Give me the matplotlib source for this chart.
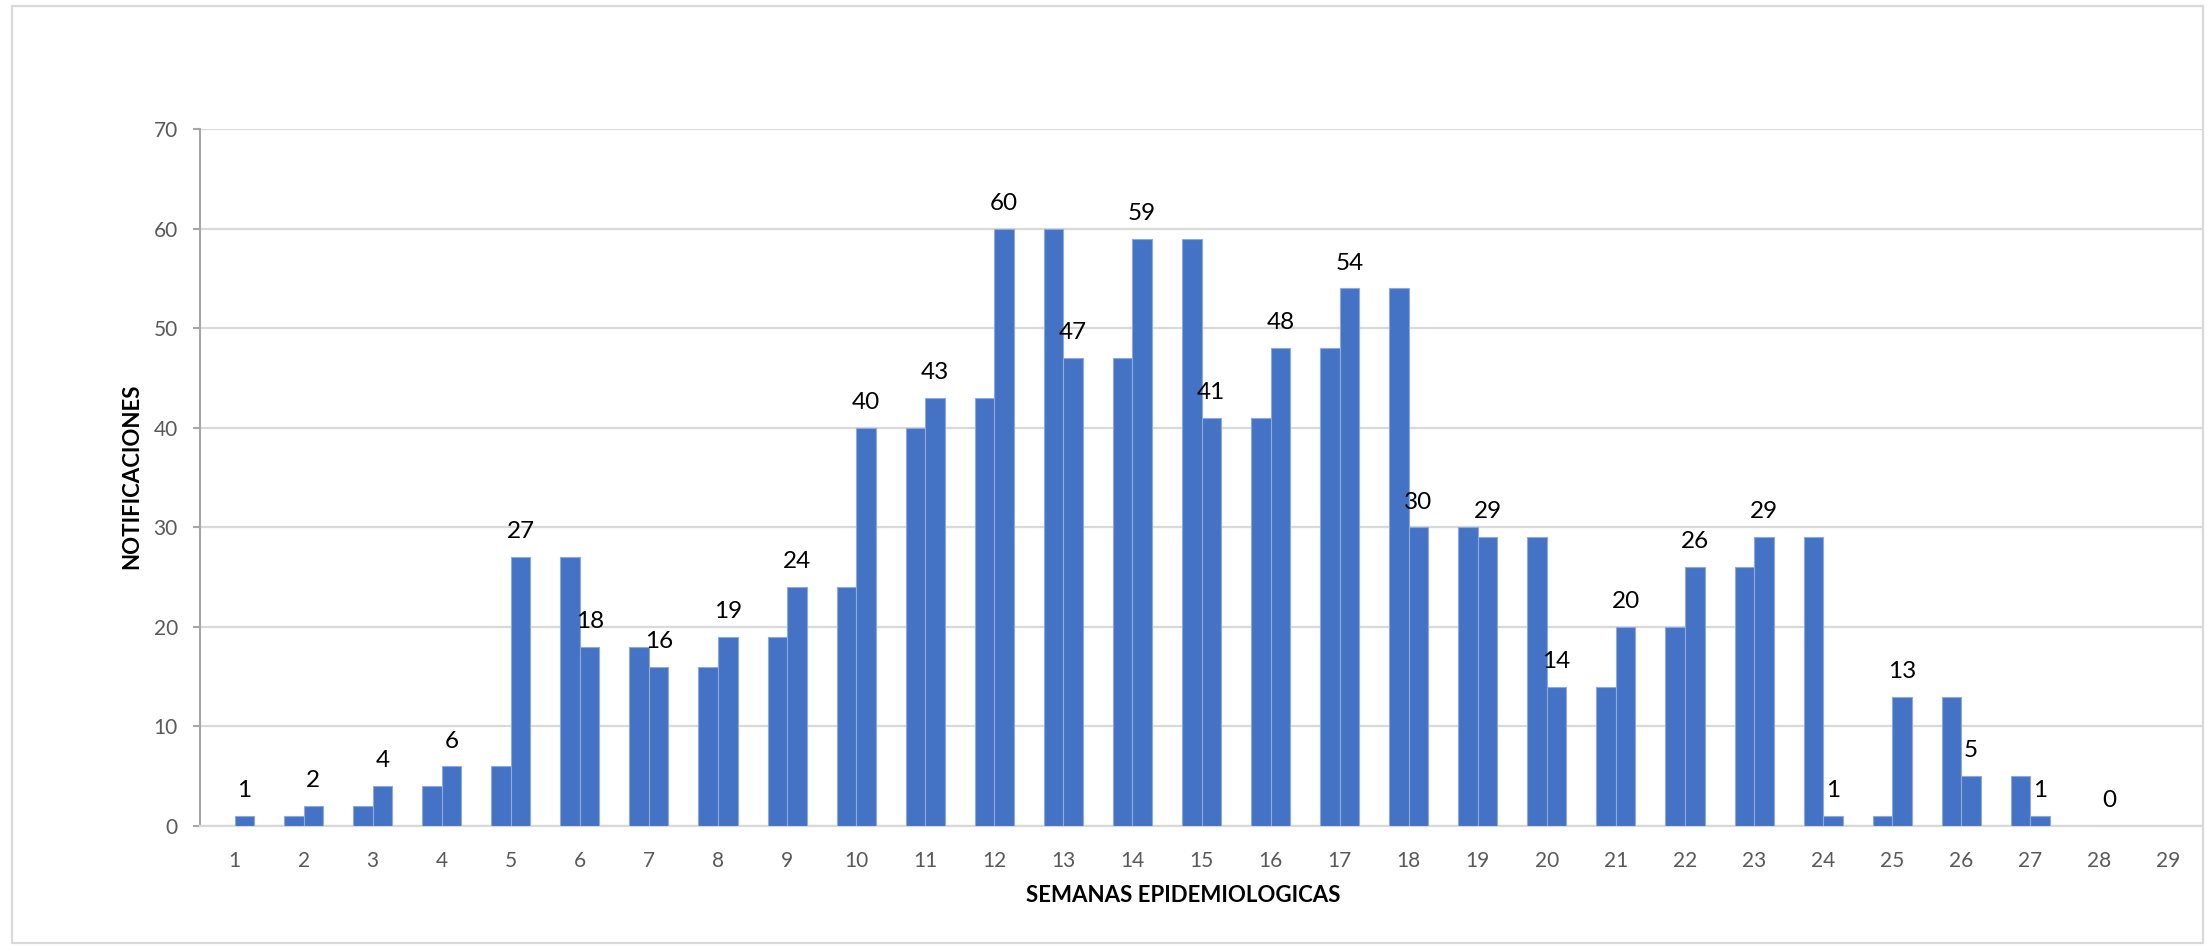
import numpy as np
import matplotlib
matplotlib.use("Agg")
import matplotlib.pyplot as plt
from matplotlib.patches import Rectangle

plt.rcParams['font.family'] = ['Lato', 'DejaVu Sans']

weeks = [str(i) for i in range(1, 30)]
prev_week = [np.nan, 1, 2, 4, 6, 27, 18, 16, 19, 24, 40, 43, 60, 47, 59, 41, 48, 54,
             30, 29, 14, 20, 26, 29, 1, 13, 5, np.nan, np.nan]
curr_week = [1, 2, 4, 6, 27, 18, 16, 19, 24, 40, 43, 60, 47, 59, 41, 48, 54, 30,
             29, 14, 20, 26, 29, 1, 13, 5, 1, 0, np.nan]

W, H = 2209, 949
fig = plt.figure(figsize=(W / 100, H / 100), dpi=100)
ax = fig.add_axes([200 / W, 1 - 826 / H, (2203 - 200) / W, (826 - 129) / H])

x = np.arange(len(weeks))
bw = 0.283
color = '#4472C4'
edge = '#8EA9DB'
ax.bar(x - bw / 2, prev_week, width=bw, color=color, edgecolor=edge, linewidth=0.8, zorder=3)
ax.bar(x + bw / 2, curr_week, width=bw, color=color, edgecolor=edge, linewidth=0.8, zorder=3)

for xi, v in zip(x, curr_week):
    if not np.isnan(v):
        ax.annotate(f"{int(v)}", (xi + bw / 2, v), xytext=(0, 13.5), textcoords='offset points',
                    ha='center', va='baseline', fontsize=17.5, color='black', zorder=4)

ax.set_xlim(-0.5, len(weeks) - 0.5)
ax.set_ylim(0, 70)
ax.set_yticks(range(0, 71, 10))
ax.set_xticks(x)
ax.set_xticklabels(weeks)
ax.grid(axis='y', color='#D9D9D9', linewidth=1.6, zorder=0)
ax.set_axisbelow(True)

for s in ['top', 'right']:
    ax.spines[s].set_visible(False)
ax.spines['left'].set_color('#A6A6A6')
ax.spines['left'].set_linewidth(1.5)
ax.spines['bottom'].set_color('#D9D9D9')
ax.spines['bottom'].set_linewidth(1.6)

ax.tick_params(axis='y', colors='#A6A6A6', labelcolor='#595959', labelsize=15,
               length=5, width=1.5, pad=11)
ax.tick_params(axis='x', labelcolor='#595959', labelsize=15, length=0, pad=18)

ax.set_xlabel('SEMANAS EPIDEMIOLOGICAS', fontsize=16, fontweight='bold', va='center')
ax.set_ylabel('NOTIFICACIONES', fontsize=16, fontweight='bold', va='center')
ax.xaxis.set_label_coords(0.491, -0.099)
ax.yaxis.set_label_coords(-0.034, 0.502)

fig.patches.append(Rectangle((12 / W, 1 - 943 / H), (2203 - 12) / W, (943 - 6) / H,
                             transform=fig.transFigure, fill=False,
                             edgecolor='#D9D9D9', linewidth=1.6))

fig.savefig('out.png', dpi=100)
